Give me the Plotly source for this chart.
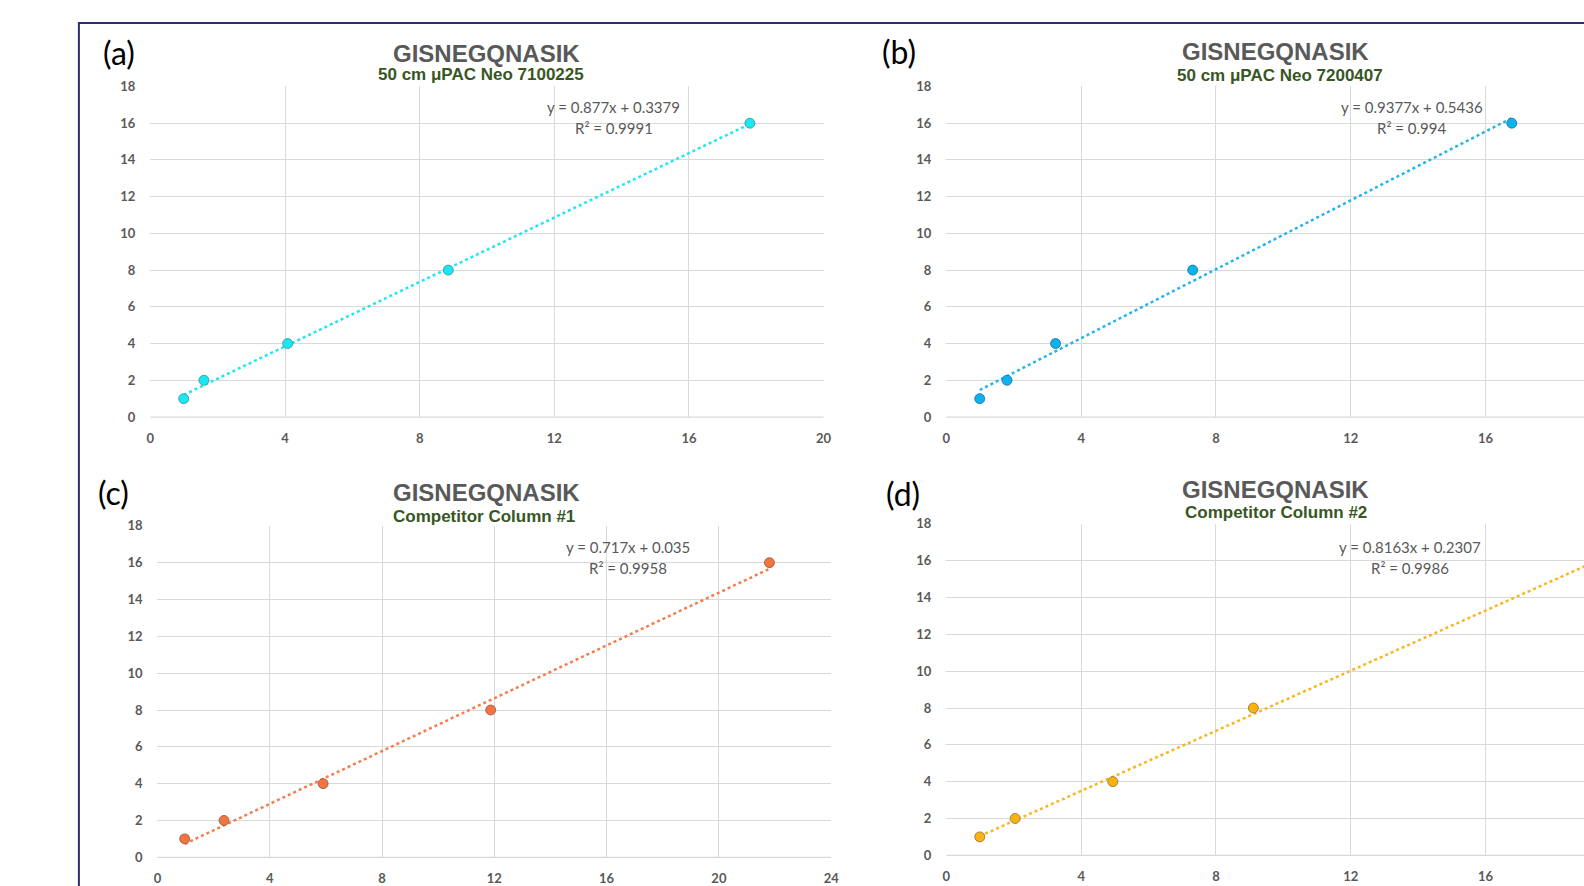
import plotly.graph_objects as go

# page size (the photographed area maps slightly larger than 1584x886)
W, H = 1594, 896
SX, OX = 0.9926, 3.1
SY, OY = 0.9818, 7.6

# ---------------- data ----------------
y_vals = [1, 2, 4, 8, 16]

x_a = [0.99, 1.59, 4.08, 8.85, 17.81]
x_b = [0.99, 1.80, 3.24, 7.31, 16.78]
x_c = [0.97, 2.37, 5.90, 11.87, 21.80]
x_d = [0.99, 2.04, 4.94, 9.11, 19.48]

slope_a, icpt_a, r2_a = 0.877, 0.3379, "0.9991"
slope_b, icpt_b, r2_b = 0.9377, 0.5436, "0.994"
slope_c, icpt_c, r2_c = 0.717, 0.035, "0.9958"
slope_d, icpt_d, r2_d = 0.8163, 0.2307, "0.9986"

title_main = "GISNEGQNASIK"
subtitles = ["50 cm μPAC Neo 7100225", "50 cm μPAC Neo 7200407",
             "Competitor Column #1", "Competitor Column #2"]
panel_labels = ["(a)", "(b)", "(c)", "(d)"]

x_ticks_a = [0, 4, 8, 12, 16, 20]
x_ticks_c = [0, 4, 8, 12, 16, 20, 24]
y_ticks = [0, 2, 4, 6, 8, 10, 12, 14, 16, 18]

# ---------------- styling ----------------
fills = ["#19E8F2", "#0BB2EC", "#F3743F", "#F9B20E"]
edges = ["#3E8E99", "#1F6E9A", "#8A5A4A", "#8A7040"]
lines = ["#1FE6F5", "#22B4EE", "#F47C4E", "#F8B51E"]
GRID = "#D9D9D9"
TXT = "#595959"
GREEN = "#375623"

def px(x):
    return ((x - OX) / SX) / W

def py(y):
    return 1 - ((y - OY) / SY) / H

# panel geometry in target pixels: (left, right, top, bottom, xmax or None)
right_unit = 33.7  # target px per x unit for right panels
panels = [
    (149.5, 822.8, 86.0, 416.5, 20),
    (945.6, None, 86.0, 416.5, None),
    (156.6, 830.4, 525.3, 856.6, 24),
    (945.6, None, 523.3, 854.6, None),
]
xs = [x_a, x_b, x_c, x_d]
fits = [(slope_a, icpt_a, r2_a), (slope_b, icpt_b, r2_b),
        (slope_c, icpt_c, r2_c), (slope_d, icpt_d, r2_d)]
xticks = [x_ticks_a, x_ticks_a, x_ticks_c, x_ticks_a]

fig = go.Figure()
layout = dict(width=W, height=H, margin=dict(l=0, r=0, t=0, b=0),
              paper_bgcolor="white", plot_bgcolor="white",
              showlegend=False, annotations=[], shapes=[])

for i in range(4):
    n = "" if i == 0 else str(i + 1)
    xa, ya = "x" + n, "y" + n
    left, right, top, bottom, xmax = panels[i]
    if right is None:
        dom = [px(left), 1.0]
        left_page = (left - OX) / SX
        xmax = (W - left_page) / (right_unit / SX)
    else:
        dom = [px(left), px(right)]
    s, b, r2 = fits[i]
    xv = xs[i]
    tx = [min(xv), max(xv)]
    ty = [s * v + b for v in tx]
    fig.add_trace(go.Scatter(x=tx, y=ty, mode="lines", xaxis=xa, yaxis=ya,
                             line=dict(color=lines[i], width=2.5, dash="dot"),
                             hoverinfo="skip"))
    fig.add_trace(go.Scatter(x=xv, y=y_vals, mode="markers", xaxis=xa, yaxis=ya,
                             marker=dict(size=10, color=fills[i],
                                         line=dict(color=edges[i], width=0.8)),
                             cliponaxis=False))
    common = dict(showgrid=True, gridcolor=GRID, gridwidth=1, zeroline=False,
                  showline=False, ticks="", fixedrange=True,
                  tickfont=dict(family="Lato", size=13, color=TXT, weight="bold"))
    layout["xaxis" + n] = dict(common, domain=dom,
                               range=[0, xmax], tickmode="array",
                               tickvals=xticks[i], anchor=ya,
                               ticklabelstandoff=12)
    layout["yaxis" + n] = dict(common, domain=[py(bottom), py(top)],
                               range=[0, 18], tickmode="array",
                               tickvals=y_ticks, anchor=xa,
                               ticklabelstandoff=14)
    layout["shapes"].append(dict(type="line", xref="paper", yref="paper",
                                 x0=dom[0], x1=dom[1], y0=py(bottom), y1=py(bottom),
                                 line=dict(color=GRID, width=1.2)))

title_pos = [(486, 53), (1275, 51), (486, 492), (1275, 489)]
subtitle_pos = [(480, 74), (1279, 75), (483.5, 516), (1275, 512)]
label_pos = [(118, 52), (898, 51), (113, 492), (902, 493)]
eq_pos = [(613, 107, 128), (1411, 107, 128), (627, 546.5, 567.5), (1409, 546.5, 567.5)]

for i in range(4):
    tx, ty1 = title_pos[i]
    layout["annotations"].append(dict(
        x=px(tx), y=py(ty1), xref="paper", yref="paper", text="<b>%s</b>" % title_main,
        showarrow=False, xanchor="center", yanchor="middle",
        font=dict(family="Liberation Sans", size=24, color=TXT)))
    sx, sy = subtitle_pos[i]
    layout["annotations"].append(dict(
        x=px(sx), y=py(sy), xref="paper", yref="paper", text="<b>%s</b>" % subtitles[i],
        showarrow=False, xanchor="center", yanchor="middle",
        font=dict(family="Liberation Sans", size=17, color=GREEN)))
    lx, ly = label_pos[i]
    layout["annotations"].append(dict(
        x=px(lx), y=py(ly), xref="paper", yref="paper", text=panel_labels[i],
        showarrow=False, xanchor="center", yanchor="middle",
        font=dict(family="Lato", size=32, color="black")))
    s, b, r2 = fits[i]
    ex, ey1, ey2 = eq_pos[i]
    layout["annotations"].append(dict(
        x=px(ex), y=py(ey1), xref="paper", yref="paper",
        text="y = %sx + %s" % (s, b), showarrow=False,
        xanchor="center", yanchor="middle",
        font=dict(family="Lato", size=15, color=TXT)))
    layout["annotations"].append(dict(
        x=px(ex), y=py(ey2), xref="paper", yref="paper",
        text="R² = %s" % r2, showarrow=False,
        xanchor="center", yanchor="middle",
        font=dict(family="Lato", size=15, color=TXT)))

layout["shapes"].append(dict(type="rect", xref="paper", yref="paper",
                             x0=px(78), x1=1.2, y0=-0.2, y1=py(22.5),
                             line=dict(color="#2E2B6E", width=2), layer="above"))

fig.update_layout(**layout)
fig.write_html(
    "out.html",
    config={"displayModeBar": False, "staticPlot": True},
    post_script=("document.documentElement.style.margin='0';"
                 "document.documentElement.style.overflow='hidden';"
                 "document.body.style.margin='0';"
                 "document.body.style.overflow='hidden';"),
)
